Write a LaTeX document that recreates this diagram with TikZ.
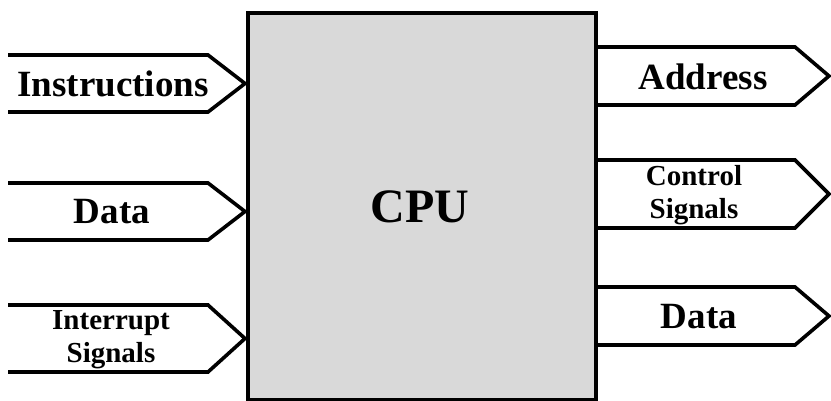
\documentclass[tikz,border=0pt]{standalone}
\usepackage{fontspec}
\setmainfont{Liberation Serif}
\begin{document}
\begin{tikzpicture}[x=1pt,y=-1pt,
  line/.style={line width=3.6pt,line join=miter,black},
  big/.style={font=\bfseries\fontsize{37}{40}\selectfont,inner sep=0pt},
  small/.style={font=\bfseries\fontsize{29}{33}\selectfont,inner sep=0pt,align=center}]
\useasboundingbox (0,0) rectangle (831,401);
% CPU box
\node[draw,line width=4pt,fill={rgb,255:red,217;green,217;blue,217},minimum width=348pt,minimum height=387pt,inner sep=0pt,anchor=north west] (cpu) at (246,11) {};
\node[font=\bfseries\fontsize{48}{50}\selectfont,inner sep=0pt] (cputxt) at (420,207) {CPU};
% left input arrows
\foreach \t/\b in {55/112, 183/240, 305/372}{
  \draw[line] (8,\t) -- (208,\t) -- (245,{(\t+\b)/2}) -- (208,\b) -- (8,\b);
}
% right output arrows
\foreach \t/\b in {47/105, 160/228, 287/345}{
  \draw[line] (594,\t) -- (795,\t) -- (829,{(\t+\b)/2}) -- (795,\b) -- (594,\b);
}
\node[big] (instr) at (113,84) {Instructions};
\node[big] (dataL) at (112,212) {Data};
\node[small] (intr) at (111,340) {Interrupt\\Signals};
\node[big] (addr) at (703,77) {Address};
\node[small] (ctrl) at (694,195) {Control\\Signals};
\node[big] (dataR) at (699,317) {Data};
\end{tikzpicture}
\end{document}
